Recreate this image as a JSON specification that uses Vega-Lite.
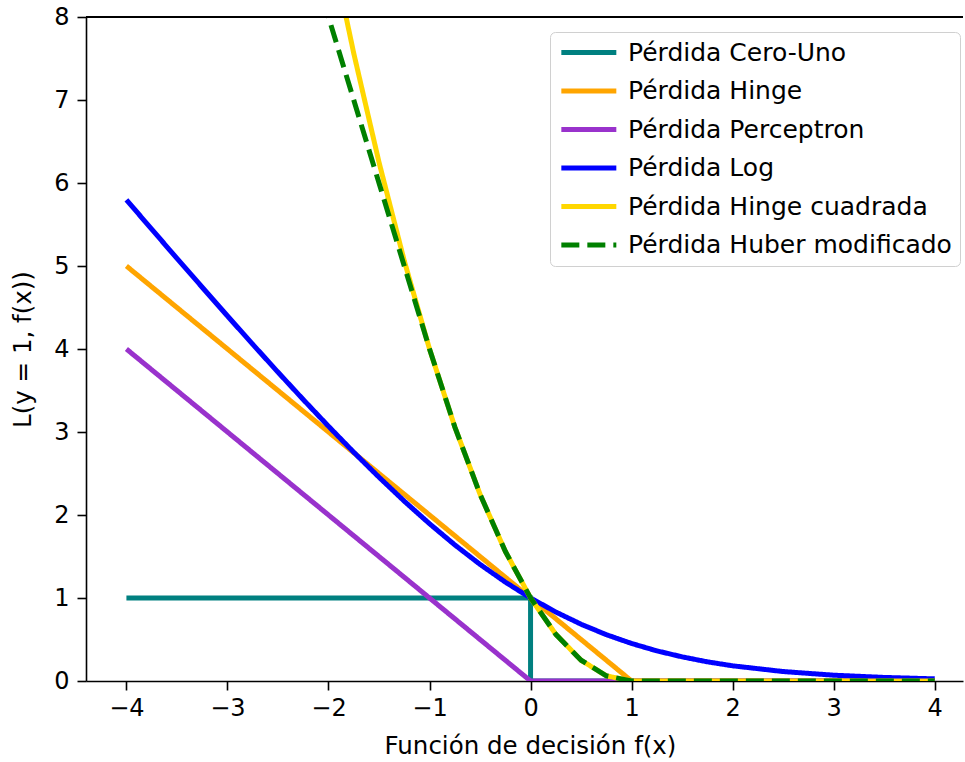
{
"$schema": "https://vega.github.io/schema/vega-lite/v6.json",
"width": 877, "height": 664,
"autosize": {"type": "none"},
"padding": {"left": 86, "top": 17, "right": 2, "bottom": 81},
"config": {
  "font": "DejaVu Sans",
  "view": {"stroke": null},
  "axis": {"grid": false, "domainColor": "black", "domainWidth": 1.6, "tickColor": "black", "tickWidth": 1.6, "tickSize": 9,
           "labelColor": "black", "labelFontSize": 24, "labelPadding": 6, "titleColor": "black", "titleFontSize": 24.5, "titleFontWeight": "normal", "labelFlush": false}
},
"data": {"values": [
  {"s": "Pérdida Cero-Uno", "x": -4, "y": 1},
  {"s": "Pérdida Cero-Uno", "x": 0, "y": 1},
  {"s": "Pérdida Cero-Uno", "x": 0, "y": 0},
  {"s": "Pérdida Cero-Uno", "x": 4, "y": 0},
  {"s": "Pérdida Hinge", "x": -4, "y": 5},
  {"s": "Pérdida Hinge", "x": 1, "y": 0},
  {"s": "Pérdida Hinge", "x": 4, "y": 0},
  {"s": "Pérdida Perceptron", "x": -4, "y": 4},
  {"s": "Pérdida Perceptron", "x": 0, "y": 0},
  {"s": "Pérdida Perceptron", "x": 4, "y": 0},
  {"s": "Pérdida Log", "x": -4, "y": 5.797},
  {"s": "Pérdida Log", "x": -3.75, "y": 5.444},
  {"s": "Pérdida Log", "x": -3.5, "y": 5.092},
  {"s": "Pérdida Log", "x": -3.25, "y": 4.744},
  {"s": "Pérdida Log", "x": -3, "y": 4.398},
  {"s": "Pérdida Log", "x": -2.75, "y": 4.057},
  {"s": "Pérdida Log", "x": -2.5, "y": 3.721},
  {"s": "Pérdida Log", "x": -2.25, "y": 3.391},
  {"s": "Pérdida Log", "x": -2, "y": 3.069},
  {"s": "Pérdida Log", "x": -1.75, "y": 2.756},
  {"s": "Pérdida Log", "x": -1.5, "y": 2.455},
  {"s": "Pérdida Log", "x": -1.25, "y": 2.167},
  {"s": "Pérdida Log", "x": -1, "y": 1.895},
  {"s": "Pérdida Log", "x": -0.75, "y": 1.640},
  {"s": "Pérdida Log", "x": -0.5, "y": 1.405},
  {"s": "Pérdida Log", "x": -0.25, "y": 1.192},
  {"s": "Pérdida Log", "x": 0, "y": 1},
  {"s": "Pérdida Log", "x": 0.25, "y": 0.831},
  {"s": "Pérdida Log", "x": 0.5, "y": 0.684},
  {"s": "Pérdida Log", "x": 0.75, "y": 0.558},
  {"s": "Pérdida Log", "x": 1, "y": 0.452},
  {"s": "Pérdida Log", "x": 1.25, "y": 0.363},
  {"s": "Pérdida Log", "x": 1.5, "y": 0.291},
  {"s": "Pérdida Log", "x": 1.75, "y": 0.231},
  {"s": "Pérdida Log", "x": 2, "y": 0.183},
  {"s": "Pérdida Log", "x": 2.5, "y": 0.114},
  {"s": "Pérdida Log", "x": 3, "y": 0.070},
  {"s": "Pérdida Log", "x": 3.5, "y": 0.043},
  {"s": "Pérdida Log", "x": 4, "y": 0.026},
  {"s": "Pérdida Hinge cuadrada", "x": -2, "y": 9},
  {"s": "Pérdida Hinge cuadrada", "x": -1.75, "y": 7.5625},
  {"s": "Pérdida Hinge cuadrada", "x": -1.5, "y": 6.25},
  {"s": "Pérdida Hinge cuadrada", "x": -1.25, "y": 5.0625},
  {"s": "Pérdida Hinge cuadrada", "x": -1, "y": 4},
  {"s": "Pérdida Hinge cuadrada", "x": -0.75, "y": 3.0625},
  {"s": "Pérdida Hinge cuadrada", "x": -0.5, "y": 2.25},
  {"s": "Pérdida Hinge cuadrada", "x": -0.25, "y": 1.5625},
  {"s": "Pérdida Hinge cuadrada", "x": 0, "y": 1},
  {"s": "Pérdida Hinge cuadrada", "x": 0.25, "y": 0.5625},
  {"s": "Pérdida Hinge cuadrada", "x": 0.5, "y": 0.25},
  {"s": "Pérdida Hinge cuadrada", "x": 0.75, "y": 0.0625},
  {"s": "Pérdida Hinge cuadrada", "x": 1, "y": 0},
  {"s": "Pérdida Hinge cuadrada", "x": 4, "y": 0},
  {"s": "Pérdida Huber modificado", "x": -2.5, "y": 10},
  {"s": "Pérdida Huber modificado", "x": -2, "y": 8},
  {"s": "Pérdida Huber modificado", "x": -1.5, "y": 6},
  {"s": "Pérdida Huber modificado", "x": -1, "y": 4},
  {"s": "Pérdida Huber modificado", "x": -0.75, "y": 3.0625},
  {"s": "Pérdida Huber modificado", "x": -0.5, "y": 2.25},
  {"s": "Pérdida Huber modificado", "x": -0.25, "y": 1.5625},
  {"s": "Pérdida Huber modificado", "x": 0, "y": 1},
  {"s": "Pérdida Huber modificado", "x": 0.25, "y": 0.5625},
  {"s": "Pérdida Huber modificado", "x": 0.5, "y": 0.25},
  {"s": "Pérdida Huber modificado", "x": 0.75, "y": 0.0625},
  {"s": "Pérdida Huber modificado", "x": 1, "y": 0},
  {"s": "Pérdida Huber modificado", "x": 4, "y": 0}
]},
"layer": [
  {
    "mark": {"type": "line", "strokeWidth": 5, "clip": true},
    "encoding": {
      "x": {"field": "x", "type": "quantitative", "scale": {"domain": [-4.4, 4.28], "nice": false, "zero": false},
            "axis": {"values": [-4, -3, -2, -1, 0, 1, 2, 3, 4], "format": "d", "title": "Función de decisión f(x)", "titleX": 444, "titlePadding": 14}},
      "y": {"field": "y", "type": "quantitative", "scale": {"domain": [0, 8], "nice": false},
            "axis": {"values": [0, 1, 2, 3, 4, 5, 6, 7, 8], "format": "d", "labelPadding": 8, "title": "L(y = 1, f(x))", "titlePadding": 18}},
      "color": {"field": "s", "type": "nominal",
        "scale": {"domain": ["Pérdida Cero-Uno", "Pérdida Hinge", "Pérdida Perceptron", "Pérdida Log", "Pérdida Hinge cuadrada", "Pérdida Huber modificado"],
                  "range": ["#008080", "#FFA500", "#9932CC", "#0000FF", "#FFD700", "#008000"]},
        "legend": {"title": null, "orient": "none", "legendX": 464, "legendY": 15, "symbolType": "M-1,0H5", "symbolSize": 336, "symbolStrokeWidth": 5,
                   "labelFontSize": 25, "labelColor": "black", "labelLimit": 600, "labelOffset": 45, "rowPadding": 12.5, "padding": 8,
                   "fillColor": "rgba(255,255,255,0.8)", "strokeColor": "#d0d0d0", "cornerRadius": 5}},
      "strokeDash": {"field": "s", "type": "nominal",
        "scale": {"domain": ["Pérdida Cero-Uno", "Pérdida Hinge", "Pérdida Perceptron", "Pérdida Log", "Pérdida Hinge cuadrada", "Pérdida Huber modificado"],
                  "range": [[1, 0], [1, 0], [1, 0], [1, 0], [1, 0], [18, 8]]}},
      "order": [{"field": "x", "type": "quantitative"}, {"field": "y", "type": "quantitative", "sort": "descending"}]
    }
  },
  {
    "mark": {"type": "rule", "color": "black", "strokeWidth": 1.6},
    "encoding": {"y": {"datum": 8}}
  }
]
}
